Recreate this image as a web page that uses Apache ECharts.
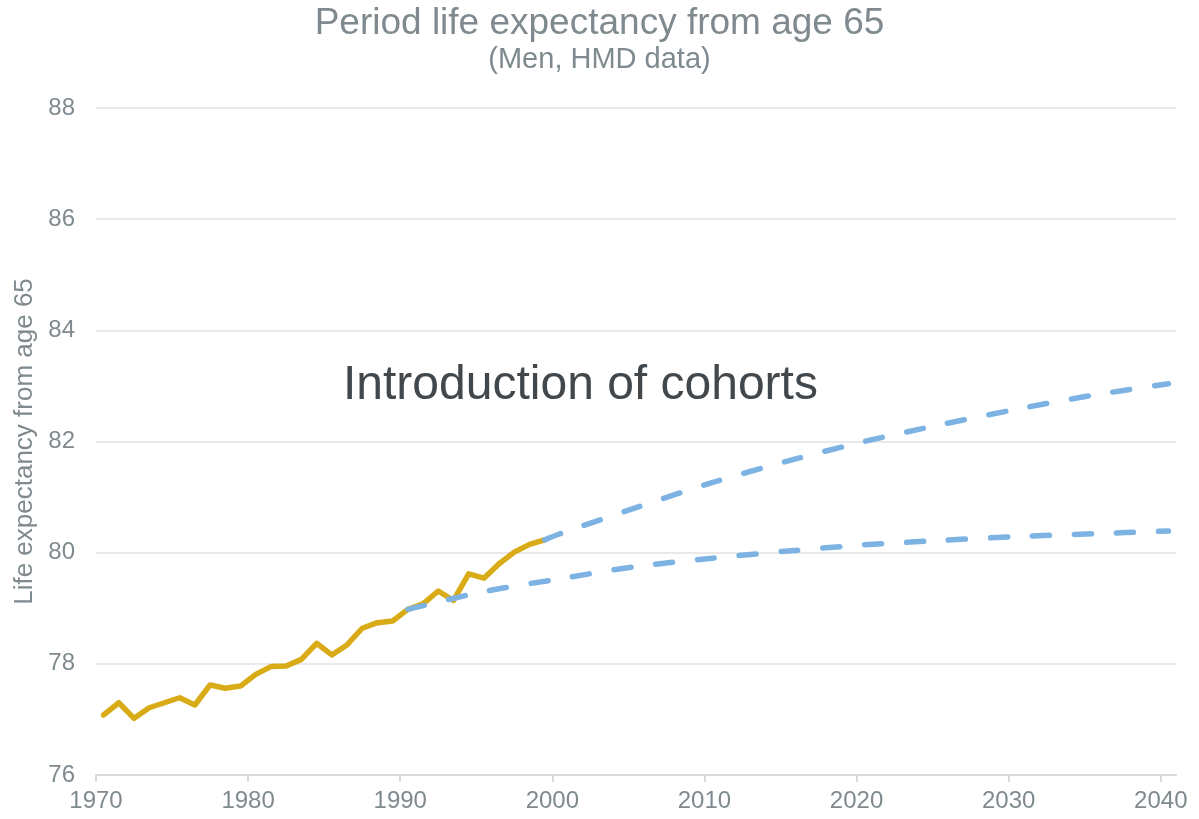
<!DOCTYPE html>
<html>
<head>
<meta charset="utf-8">
<script src="https://cdn.jsdelivr.net/npm/echarts@6/dist/echarts.min.js"></script>
<style>
  html, body { margin: 0; padding: 0; background: #fff; }
  #chart { width: 1199px; height: 819px; }
</style>
</head>
<body>
<div id="chart"></div>
<script>
    "use strict";

    // observed period life expectancy (HMD)
    var histYears = [1970, 1971, 1972, 1973, 1974, 1975, 1976, 1977, 1978, 1979,
                     1980, 1981, 1982, 1983, 1984, 1985, 1986, 1987, 1988, 1989,
                     1990, 1991, 1992, 1993, 1994, 1995, 1996, 1997, 1998, 1999];
    var histValues = [77.08, 77.30, 77.02, 77.21, 77.30, 77.39, 77.26, 77.62, 77.56, 77.60,
                      77.81, 77.95, 77.96, 78.08, 78.37, 78.16, 78.34, 78.64, 78.74, 78.77,
                      78.98, 79.08, 79.31, 79.14, 79.62, 79.54, 79.80, 80.01, 80.15, 80.23];

    // projections (dashed)
    var highYears = [1999, 2000, 2005, 2010, 2015, 2020, 2025, 2030, 2035, 2040];
    var highValues = [80.23, 80.34, 80.81, 81.26, 81.65, 82.00, 82.30, 82.58, 82.83, 83.04];

    var lowYears = [1990, 1995, 2000, 2005, 2010, 2015, 2020, 2025, 2030, 2035, 2040];
    var lowValues = [78.98, 79.30, 79.53, 79.75, 79.90, 80.03, 80.14, 80.22, 80.29, 80.34, 80.39];

    var xTicks = [1970, 1980, 1990, 2000, 2010, 2020, 2030, 2040];

    var gris = '#7f8a8f';
    var fuente = '"Liberation Sans", Arial, sans-serif';

    // valores a mitad de año
    function pares(anios, valores) {
        return anios.map(function (a, i) { return [a + 0.5, valores[i]]; });
    }

    var chart = echarts.init(document.getElementById('chart'));
    chart.setOption({
        animation: false,
        textStyle: { fontFamily: fuente },
        title: {
            text: 'Period life expectancy from age 65',
            subtext: '(Men, HMD data)',
            left: 'center',
            top: 0,
            itemGap: 3,
            textStyle: { color: gris, fontSize: 37, fontWeight: 'normal', fontFamily: fuente },
            subtextStyle: { color: gris, fontSize: 29, fontFamily: fuente }
        },
        grid: { left: 96, right: 23, top: 108, bottom: 44, containLabel: false },
        xAxis: {
            type: 'value',
            min: 1970,
            max: 2041,
            interval: 10,
            axisLine: { show: true, lineStyle: { color: '#d9d9d9', width: 2 } },
            axisTick: { show: true, length: 7, customValues: xTicks, lineStyle: { color: '#d9d9d9', width: 2 } },
            axisLabel: {
                customValues: xTicks, color: gris, fontSize: 24, margin: 14,
                formatter: function (v) { return String(v); }
            },
            splitLine: { show: false }
        },
        yAxis: {
            type: 'value',
            min: 76,
            max: 88,
            interval: 2,
            name: 'Life expectancy from age 65',
            nameLocation: 'middle',
            nameGap: 55,
            nameTextStyle: { color: gris, fontSize: 26 },
            axisLine: { show: false },
            axisTick: { show: false },
            axisLabel: { color: gris, fontSize: 24, margin: 21 },
            splitLine: { lineStyle: { color: '#e2e2e2', width: 1.5 } }
        },
        graphic: [{
            type: 'text',
            left: 343,
            top: 362,
            style: { text: 'Introduction of cohorts', fill: '#41474b', font: '48px ' + fuente }
        }],
        series: [{
            name: 'Observed',
            type: 'line',
            data: pares(histYears, histValues),
            showSymbol: false,
            lineStyle: { color: '#d9ab16', width: 5.5, join: 'round', cap: 'round' },
            z: 2
        }, {
            name: 'High',
            type: 'line',
            data: pares(highYears, highValues),
            smooth: 0.3,
            showSymbol: false,
            lineStyle: { color: '#7db3e3', width: 5.5, type: [17, 25], cap: 'round' },
            z: 3
        }, {
            name: 'Low',
            type: 'line',
            data: pares(lowYears, lowValues),
            smooth: 0.3,
            showSymbol: false,
            lineStyle: { color: '#7db3e3', width: 5.5, type: [17, 25], cap: 'round' },
            z: 3
        }]
    });
</script>
</body>
</html>
